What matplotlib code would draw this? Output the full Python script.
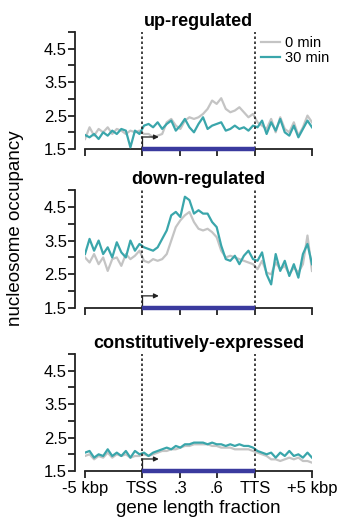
import numpy as np
import matplotlib
matplotlib.use("Agg")
import matplotlib.pyplot as plt

plt.rcParams['font.family'] = ['Liberation Sans', 'DejaVu Sans']

# position along metagene: 0-50 upstream flank, 50-150 gene body, 150-200 downstream flank
pos = np.arange(0, 201, 4)

titles = ["up-regulated", "down-regulated", "constitutively-expressed"]
series_names = ["0 min", "30 min"]

up_0min = [1.80, 2.15, 1.90, 2.10, 2.00, 2.15, 1.95, 2.10, 2.05, 1.95, 2.05, 2.00, 2.05,
           1.95, 1.95, 1.85, 1.90, 1.95, 2.30, 2.40, 2.20, 2.10, 2.35, 2.45, 2.40, 2.45,
           2.55, 2.70, 2.95, 2.85, 3.02, 2.70, 2.60, 2.65, 2.75, 2.60, 2.45, 2.55, 2.30,
           2.20, 2.10, 2.40, 2.00, 2.45, 2.10, 2.00, 2.30, 1.90, 2.15, 2.50, 2.30]
up_30min = [1.92, 1.85, 1.95, 1.80, 2.00, 1.90, 2.05, 1.95, 2.10, 2.05, 1.55, 2.05, 1.95,
            2.20, 2.25, 2.15, 2.30, 2.10, 2.25, 2.35, 2.05, 2.20, 2.40, 2.15, 2.00, 2.25,
            2.45, 2.10, 2.20, 2.25, 2.30, 2.05, 2.10, 2.20, 2.10, 2.15, 2.05, 2.20, 2.15,
            2.35, 1.95, 2.30, 2.05, 2.40, 2.00, 1.90, 2.20, 1.85, 2.10, 2.35, 2.15]

down_0min = [3.00, 2.85, 3.10, 2.80, 3.00, 2.60, 2.95, 3.00, 2.75, 3.10, 2.95, 3.05, 3.20,
             2.90, 2.85, 2.95, 2.90, 2.95, 3.10, 3.50, 3.90, 4.10, 4.25, 4.35, 4.05, 3.85,
             3.80, 3.85, 3.75, 3.60, 3.20, 3.00, 3.05, 3.00, 2.95, 2.90, 2.85, 2.80, 2.65,
             2.90, 2.55, 2.50, 2.85, 2.65, 2.75, 2.50, 2.70, 2.55, 2.80, 3.65, 2.60]
down_30min = [3.10, 3.55, 3.20, 3.50, 3.10, 3.30, 3.00, 3.45, 3.15, 3.00, 3.50, 3.20, 3.40,
              3.30, 3.25, 3.20, 3.30, 3.55, 3.80, 4.25, 4.35, 4.20, 4.80, 4.70, 4.30, 4.40,
              4.30, 4.30, 4.05, 3.90, 3.35, 2.95, 2.90, 3.05, 2.80, 3.05, 3.20, 2.95, 2.90,
              3.15, 2.50, 2.20, 3.10, 2.60, 2.90, 2.45, 2.80, 2.40, 3.10, 3.40, 2.80]

const_0min = [1.95, 2.00, 1.85, 1.95, 1.90, 2.05, 1.90, 2.00, 1.95, 2.00, 1.90, 1.95, 1.95,
              2.00, 1.95, 2.00, 2.05, 2.10, 2.10, 2.15, 2.15, 2.20, 2.25, 2.25, 2.30, 2.30,
              2.30, 2.30, 2.25, 2.25, 2.20, 2.20, 2.20, 2.15, 2.15, 2.15, 2.15, 2.10, 2.05,
              2.00, 1.95, 1.85, 1.85, 1.80, 1.85, 1.90, 1.85, 1.90, 1.80, 1.80, 1.75]
const_30min = [2.05, 2.10, 1.90, 2.00, 1.95, 2.15, 1.95, 2.05, 1.95, 2.10, 1.90, 2.10, 2.00,
               2.05, 1.95, 2.05, 2.10, 2.15, 2.20, 2.15, 2.25, 2.20, 2.30, 2.30, 2.35, 2.35,
               2.35, 2.30, 2.35, 2.30, 2.30, 2.25, 2.30, 2.25, 2.30, 2.25, 2.25, 2.20, 2.10,
               2.05, 2.00, 2.05, 1.90, 2.05, 1.95, 2.10, 1.95, 2.00, 1.90, 2.05, 1.90]

panels = [(up_0min, up_30min), (down_0min, down_30min), (const_0min, const_30min)]

xtick_labels = ["-5 kbp", "TSS", ".3", ".6", "TTS", "+5 kbp"]
ytick_labels = ["1.5", "2.5", "3.5", "4.5"]

gray = "#c4c4c4"
teal = "#3aa6ab"
gene_blue = "#3a3a9e"

fig = plt.figure(figsize=(3.38, 5.24), dpi=100)

# axes boxes in figure fraction (left, bottom, width, height)
boxes = [(0.2515, 0.7156, 0.6716, 0.2233),
         (0.2515, 0.4122, 0.6716, 0.2252),
         (0.2515, 0.1011, 0.6716, 0.2233)]

tss, tts = 50, 150
xticks = [0, tss, 84, 116, tts, 200]

for i, (box, (s0, s30)) in enumerate(zip(boxes, panels)):
    ax = fig.add_axes(box)
    ax.plot(pos, s0, color=gray, lw=1.6, label=series_names[0], zorder=2)
    ax.plot(pos, s30, color=teal, lw=1.6, label=series_names[1], zorder=3)

    ax.set_xlim(0, 200)
    ax.set_ylim(1.5, 5.0)

    # dotted TSS / TTS markers
    for xv in (tss, tts):
        ax.plot([xv, xv], [1.5, 5.0], color="#222222", lw=1.2, ls=(0, (1.5, 1.5)),
                zorder=4, clip_on=False)

    # gene body bar and TSS arrow
    ax.plot([tss, tts], [1.5, 1.5], color=gene_blue, lw=3.2, solid_capstyle="butt",
            zorder=6, clip_on=False)
    ax.plot([tss, tss], [1.5, 1.86], color="#222222", lw=0.9, zorder=5, clip_on=False)
    ax.annotate("", xy=(tss + 15, 1.86), xytext=(tss - 0.3, 1.86),
                arrowprops=dict(arrowstyle="-|>", color="#222222", lw=0.9,
                                mutation_scale=7, shrinkA=0, shrinkB=0), zorder=5)

    for side in ("top", "right"):
        ax.spines[side].set_visible(False)
    ax.spines["left"].set_position(("outward", 7))
    ax.spines["left"].set_linewidth(1.3)
    ax.spines["bottom"].set_linewidth(1.3)
    ax.spines["bottom"].set_color("#222222")
    ax.spines["left"].set_color("#222222")

    ax.set_yticks([1.5, 2.5, 3.5, 4.5])
    ax.set_yticklabels(ytick_labels)
    ax.set_yticks([2.0, 3.0, 4.0, 5.0], minor=True)
    ax.tick_params(axis="y", which="both", length=5, width=1.3, labelsize=12,
                   pad=1, color="#222222")
    ax.set_xticks(xticks)
    ax.tick_params(axis="x", length=5, width=1.3, labelsize=12, pad=2,
                   color="#222222", direction="out")
    if i < 2:
        ax.set_xticklabels([])
    else:
        ax.set_xticklabels(xtick_labels)
        ax.set_xlabel("gene length fraction", fontsize=13.5, labelpad=3)

    ax.set_title(titles[i], fontsize=13, fontweight="bold", pad=4)

    if i == 0:
        ax.legend(loc="upper right", bbox_to_anchor=(1.1, 1.015), frameon=False,
                  fontsize=10.5, handlelength=1.3, handletextpad=0.35,
                  labelspacing=0.05, borderaxespad=0)

fig.text(0.045, 0.565, "nucleosome occupancy", rotation=90, fontsize=13.5,
         ha="center", va="center")

fig.savefig("out.png", dpi=100)
